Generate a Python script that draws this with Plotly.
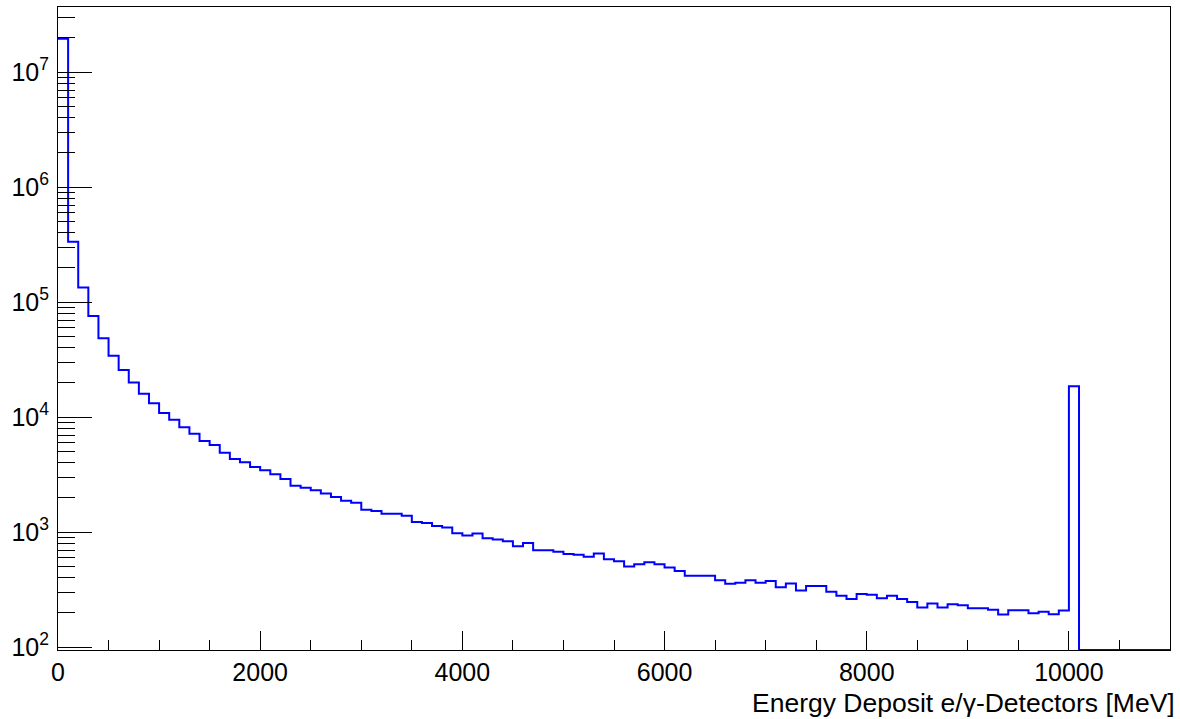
import plotly.graph_objects as go
import math

# ---------------- data ----------------
bin_width = 100.0  # MeV
x_min, x_max = 0.0, 11000.0
counts = [
    1.95e7, 3.36e5, 1.34e5, 7.6e4, 4.86e4, 3.42e4, 2.58e4, 2.0e4, 1.6e4, 1.32e4,
    1.09e4, 9.5e3, 8.2e3, 7.2e3, 6.2e3, 5.73e3, 4.92e3, 4.33e3, 4.06e3, 3.69e3,
    3.45e3, 3.19e3, 2.9e3, 2.54e3, 2.44e3, 2.32e3, 2.17e3, 2.02e3, 1.88e3, 1.8e3,
    1.57e3, 1.53e3, 1.45e3, 1.45e3, 1.39e3, 1.23e3, 1.2e3, 1.13e3, 1.1e3, 980,
    935, 975, 887, 865, 836, 755, 807, 698, 698, 675,
    648, 636, 611, 653, 583, 560, 504, 527, 549, 527,
    493, 461, 418, 418, 418, 383, 356, 363, 383, 363,
    376, 333, 359, 312, 340, 340, 303, 280, 262, 291,
    286, 267, 280, 262, 247, 222, 240, 222, 237, 232,
    218, 218, 212, 193, 210, 210, 197, 203, 194, 209,
    1.86e4, 0, 0, 0, 0, 0, 0, 0, 0, 0,
]
y_lo, y_hi = 94.6, 3.69e7
y_decades = [2, 3, 4, 5, 6, 7]
y_ticktext = ["10<sup>%d</sup>" % d for d in y_decades]
x_major = [0, 2000, 4000, 6000, 8000, 10000]
x_title = "Energy Deposit e/\u03b3-Detectors [MeV]"

# ---------------- step path ----------------
edges = [x_min + i * bin_width for i in range(len(counts) + 1)]
vals = [c if c > 0 else y_lo for c in counts]
xs, ys = [], []
for i, v in enumerate(vals):
    xs += [edges[i], edges[i + 1]]
    ys += [v, v]

minor_vals = []
for d in range(1, 8):
    for k in range(2, 10):
        v = k * 10 ** d
        if y_lo <= v <= y_hi:
            minor_vals.append(v)

font_family = "Liberation Sans, Arial, Helvetica, sans-serif"

fig = go.Figure()
fig.add_trace(go.Scatter(
    x=xs, y=ys, mode="lines",
    line=dict(color="#0000ff", width=2),
    hoverinfo="skip", showlegend=False,
))

fig.update_layout(
    width=1180, height=719,
    margin=dict(l=58, r=10, t=7, b=69),
    paper_bgcolor="white", plot_bgcolor="white",
    font=dict(family=font_family, size=25, color="black"),
    xaxis=dict(
        range=[x_min, x_max], showgrid=False, zeroline=False,
        showline=True, linecolor="black", linewidth=1, mirror=True,
        tickmode="array", tickvals=x_major, ticktext=[str(v) for v in x_major],
        ticks="inside", ticklen=19, tickwidth=1, tickcolor="black",
        minor=dict(ticks="inside", ticklen=10, tickwidth=1, tickcolor="black",
                   dtick=500, tick0=0, showgrid=False),
        tickfont=dict(size=25), ticklabelstandoff=0,
    ),
    yaxis=dict(
        type="log", range=[math.log10(y_lo), math.log10(y_hi)],
        showgrid=False, zeroline=False,
        showline=True, linecolor="black", linewidth=1, mirror=True,
        tickmode="array", tickvals=[10 ** d for d in y_decades], ticktext=y_ticktext,
        ticks="inside", ticklen=34, tickwidth=1, tickcolor="black",
        minor=dict(ticks="inside", ticklen=17, tickwidth=1, tickcolor="black",
                   tickmode="array", tickvals=minor_vals, showgrid=False),
        tickfont=dict(size=25), ticklabelstandoff=3,
    ),
    annotations=[dict(
        text=x_title, xref="paper", yref="paper", x=1, y=0,
        xanchor="right", yanchor="middle", yshift=-53, xshift=7,
        showarrow=False, font=dict(size=26.5, family=font_family, color="black"),
    )],
)

fig.write_html("out.html")
